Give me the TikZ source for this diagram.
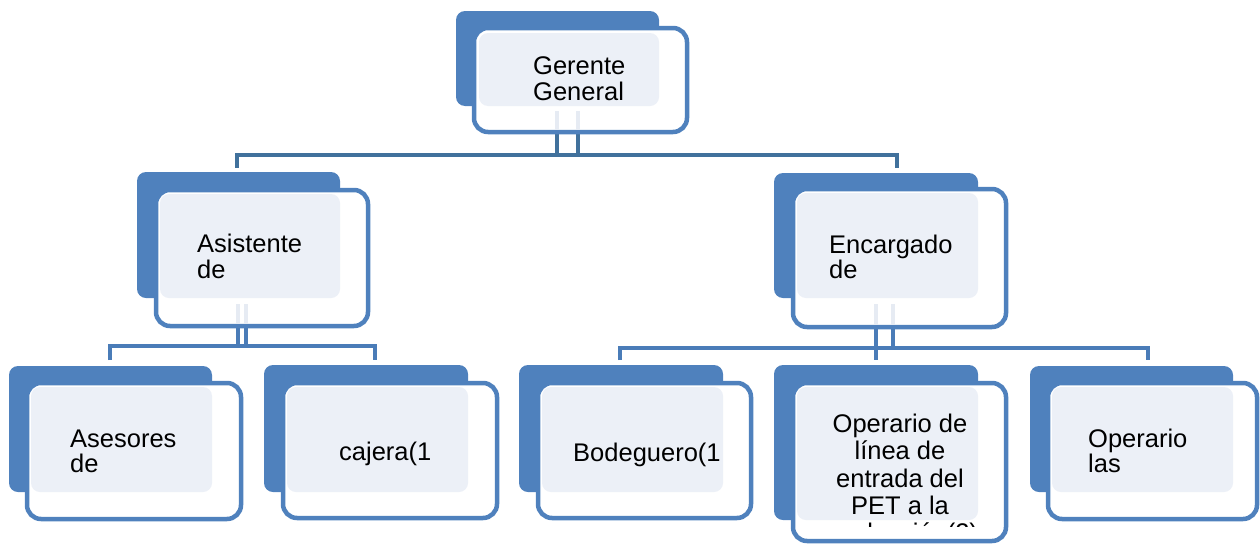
\documentclass[tikz,border=0pt]{standalone}
\usepackage{fontspec}
\setmainfont{Liberation Sans}
\definecolor{boxblue}{HTML}{4F81BD}
\definecolor{topconn}{HTML}{41719C}
\definecolor{lowconn}{HTML}{4A7CB8}
\definecolor{lightbg}{HTML}{ECF0F7}
\definecolor{ghostc}{HTML}{E6EBF3}
\begin{document}
\begin{tikzpicture}[x=1pt,y=-1pt,
  back/.style={fill=boxblue, rounded corners=9pt},
  front/.style={draw=boxblue, line width=4.5pt, fill=white, rounded corners=14pt,
    inner sep=0pt, outer sep=0pt, anchor=north west},
  lightfill/.style={fill=lightbg, rounded corners=9pt},
  lbl/.style={anchor=base west, inner sep=0pt, font=\fontsize{25.5}{28}\selectfont},
  clbl/.style={anchor=base, inner sep=0pt, font=\fontsize{25.5}{28}\selectfont},
  tconn/.style={draw=topconn, line width=4pt},
  lconn/.style={draw=lowconn, line width=4pt},
  ghost/.style={draw=ghostc, line width=4pt}]
\useasboundingbox (0,0) rectangle (1260,544);

% ---------- connector points ----------
\coordinate (t1) at (557,130);  \coordinate (t1b) at (557,155);
\coordinate (t2) at (578,130);  \coordinate (t2b) at (578,155);
\coordinate (tl) at (237,155);  \coordinate (tld) at (237,166);
\coordinate (tr) at (897,155);  \coordinate (trd) at (897,166);

\coordinate (a1) at (238,324);  \coordinate (a1b) at (238,346);
\coordinate (a2) at (246,324);  \coordinate (a2b) at (246,346);
\coordinate (al) at (110,346);  \coordinate (ald) at (110,360);
\coordinate (ar) at (375,346);  \coordinate (ard) at (375,360);

\coordinate (e1) at (876,325);  \coordinate (e1b) at (876,348);  \coordinate (e1d) at (876,360);
\coordinate (e2) at (893,325);  \coordinate (e2b) at (893,348);
\coordinate (el) at (620,348);  \coordinate (eld) at (620,360);
\coordinate (er) at (1148,348); \coordinate (erd) at (1148,360);

% ---------- connectors ----------
\draw[tconn] (t1) -- (t1b);
\draw[tconn] (t2) -- (t2b);
\draw[tconn] (t1b) -- (t2b);
\draw[tconn, line cap=rect] (tld) -- (tl) -- (tr) -- (trd);

\draw[lconn] (a1) -- (a1b);
\draw[lconn] (a2) -- (a2b);
\draw[lconn] (ald) -- (al) -- (ar) -- (ard);

\draw[lconn] (e1) -- (e1d);
\draw[lconn] (e2) -- (e2b);
\draw[lconn] (e1b) -- (e2b);
\draw[lconn] (eld) -- (el) -- (er) -- (erd);

% ---------- boxes ----------
% Gerente General
\fill[back] (456,11) rectangle (659,106);
\node[front, minimum width=213pt, minimum height=104pt] (gm) at (474,28) {};
\draw[ghost] (557,111) -- (557,130);
\draw[ghost] (578,111) -- (578,130);
\fill[lightfill] (479,33) rectangle (659,106);

% Asistente de
\fill[back] (137,172) rectangle (340,298);
\node[front, minimum width=212pt, minimum height=136pt] (as) at (156,190) {};
\draw[ghost] (238,304) -- (238,324);
\draw[ghost] (246,304) -- (246,324);
\fill[lightfill] (160,194) rectangle (340,298);

% Encargado de
\fill[back] (774,173) rectangle (978,298);
\node[front, minimum width=213pt, minimum height=138pt] (en) at (793,189) {};
\draw[ghost] (876,304) -- (876,325);
\draw[ghost] (893,304) -- (893,325);
\fill[lightfill] (797,193) rectangle (978,298);

% Asesores de
\fill[back] (9,366) rectangle (212,492);
\node[front, minimum width=214pt, minimum height=136pt] (ase) at (27,383) {};
\fill[lightfill] (31,387) rectangle (212,492);

% cajera
\fill[back] (264,365) rectangle (468,492);
\node[front, minimum width=214pt, minimum height=135pt] (caj) at (283,383) {};
\fill[lightfill] (287,387) rectangle (468,492);

% Bodeguero
\fill[back] (519,365) rectangle (723,492);
\node[front, minimum width=213pt, minimum height=135pt] (bod) at (538,383) {};
\fill[lightfill] (542,387) rectangle (723,492);

% Operario de linea
\fill[back] (774,365) rectangle (978,520);
\node[front, minimum width=213pt, minimum height=158pt] (opl) at (793,383) {};
\fill[lightfill] (797,387) rectangle (978,520);

% Operario las
\fill[back] (1030,366) rectangle (1233,492);
\node[front, minimum width=209pt, minimum height=136pt] (ops) at (1048,383) {};
\fill[lightfill] (1052,387) rectangle (1233,492);

% ---------- texts ----------
\node[lbl] (gm1) at (533,74) {Gerente};
\node[lbl] (gm2) at (533,100) {General};

\node[lbl] (as1) at (197,252) {Asistente};
\node[lbl] (as2) at (197,278) {de};

\node[lbl] (en1) at (829,253) {Encargado};
\node[lbl] (en2) at (829,278) {de};

\node[lbl] (ase1) at (70,447) {Asesores};
\node[lbl] (ase2) at (70,472) {de};

\node[lbl] (caj1) at (339,460) {cajera(1};

\node[lbl] (bod1) at (573,461) {Bodeguero(1};

\node[clbl] (opl1) at (900,432) {Operario de};
\node[clbl] (opl2) at (900,459) {línea de};
\node[clbl] (opl3) at (900,487) {entrada del};
\node[clbl] (opl4) at (900,514) {PET a la};
\begin{scope}
  \clip (795,521) rectangle (1004,526);
  \node[clbl] (opl5) at (900,541) {producción(2)};
\end{scope}

\node[lbl] (ops1) at (1088,447) {Operario};
\node[lbl] (ops2) at (1088,472) {las};
\end{tikzpicture}
\end{document}
